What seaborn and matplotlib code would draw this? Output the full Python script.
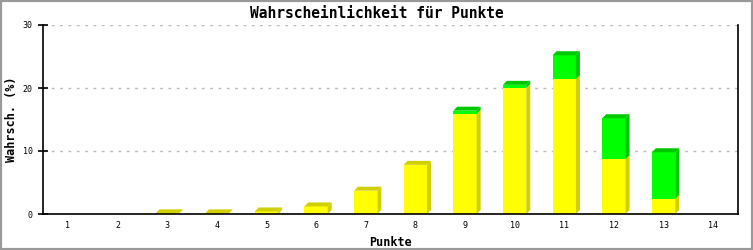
import matplotlib
matplotlib.use("Agg")
import matplotlib.pyplot as plt
import seaborn as sns
import pandas as pd
from matplotlib.patches import Polygon, Rectangle

categories = ["1", "2", "3", "4", "5", "6", "7", "8", "9", "10", "11", "12", "13", "14"]
yellow_values = [0.0, 0.0, 0.1, 0.1, 0.4, 1.2, 3.7, 7.8, 15.9, 20.0, 21.4, 8.7, 2.4, 0.0]
green_values = [0.0, 0.0, 0.0, 0.0, 0.0, 0.0, 0.0, 0.0, 0.5, 0.5, 3.8, 6.5, 7.4, 0.0]
y_ticks = [0, 10, 20, 30]

YELLOW, YELLOW_DARK = "#ffff00", "#d0d000"
GREEN, GREEN_DARK = "#00ff00", "#00c800"

sns.set_theme(style="white")
plt.rcParams["font.family"] = ["DejaVu Sans Mono", "DejaVu Sans"]
plt.rcParams["text.color"] = "black"
plt.rcParams["axes.labelcolor"] = "black"
plt.rcParams["xtick.color"] = "black"
plt.rcParams["ytick.color"] = "black"

fig = plt.figure(figsize=(7.53, 2.5), dpi=100)
fig.patch.set_facecolor("white")
ax = fig.add_axes([43 / 753, 36 / 250, 695 / 753, 189 / 250])

df = pd.DataFrame({"Punkte": categories, "gelb": yellow_values,
                   "gesamt": [a + b for a, b in zip(yellow_values, green_values)]})

# stacked bars: total (green) behind, yellow in front
sns.barplot(data=df, x="Punkte", y="gesamt", color=GREEN, saturation=1, width=0.47,
            ax=ax, zorder=3, linewidth=0)
n_green = len(ax.patches)
sns.barplot(data=df, x="Punkte", y="gelb", color=YELLOW, saturation=1, width=0.47,
            ax=ax, zorder=4, linewidth=0)

ax.set_ylim(0, 30)
ax.set_xlim(-0.5, len(categories) - 0.5)

# 3D depth in data units (4 px)
fig.canvas.draw()
inv = ax.transData.inverted()
p0 = inv.transform((0, 0))
p1 = inv.transform((4, 4))
dx, dy = p1[0] - p0[0], p1[1] - p0[1]

green_patches = ax.patches[:n_green]
yellow_patches = ax.patches[n_green:]
for gp, yp, yv, gv in zip(green_patches, yellow_patches, yellow_values, green_values):
    x0 = yp.get_x()
    w = yp.get_width()
    x1 = x0 + w
    total = yv + gv
    if total <= 0:
        continue
    segs = [(0, yv, YELLOW_DARK), (yv, total, GREEN_DARK)]
    for b, t, c in segs:
        if t - b <= 0:
            continue
        ax.add_patch(Polygon([(x1, b), (x1 + dx, b + dy), (x1 + dx, t + dy), (x1, t)],
                             closed=True, facecolor=c, edgecolor="none", zorder=5))
    top_c = GREEN_DARK if gv > 0 else YELLOW_DARK
    ax.add_patch(Polygon([(x0, total), (x0 + dx, total + dy), (x1 + dx, total + dy), (x1, total)],
                         closed=True, facecolor=top_c, edgecolor="none", zorder=5))

ax.set_yticks(y_ticks)
ax.set_yticklabels([str(v) for v in y_ticks])
ax.yaxis.grid(True, linestyle=(0, (2, 4)), color="#bbbbbb", linewidth=1, zorder=0)
ax.set_axisbelow(True)

for s in ["left", "bottom", "right"]:
    ax.spines[s].set_visible(True)
    ax.spines[s].set_color("black")
    ax.spines[s].set_linewidth(1.2)
    ax.spines[s].set_zorder(6)
ax.spines["top"].set_visible(False)

ax.tick_params(axis="y", direction="inout", length=7, width=1.2, color="black",
               labelsize=6, pad=4, left=True, labelcolor="black")
ax.tick_params(axis="x", length=0, labelsize=6, pad=5, labelcolor="black")

ax.set_xlabel("Punkte", fontsize=8.5, fontweight="bold", labelpad=4, color="black")
ax.set_ylabel("Wahrsch. (%)", fontsize=8.5, fontweight="bold", labelpad=3, color="black")
fig.suptitle("Wahrscheinlichkeit für Punkte", fontsize=10.5, fontweight="bold",
             x=0.5, y=0.975, va="top", color="black")

# figure border
fig.add_artist(Rectangle((0, 0), 1, 1, transform=fig.transFigure, fill=False,
                         edgecolor="#999999", linewidth=3, zorder=10))

fig.savefig("out.png", dpi=100, facecolor="white")
